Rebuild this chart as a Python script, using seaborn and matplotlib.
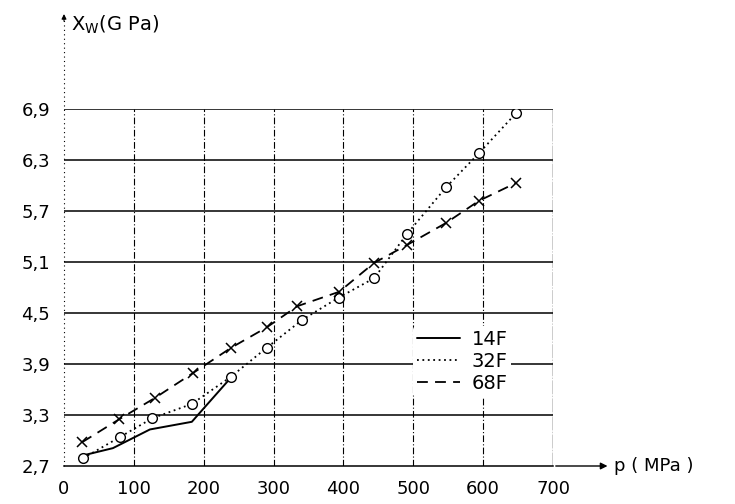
import numpy as np
import pandas as pd
import matplotlib
matplotlib.use("Agg")
import matplotlib.pyplot as plt
import seaborn as sns
from matplotlib.lines import Line2D

sns.set_theme(style="white")
plt.rcParams['font.family'] = ['DejaVu Sans']
plt.rcParams['text.color'] = 'black'
plt.rcParams['xtick.color'] = 'black'
plt.rcParams['ytick.color'] = 'black'

# data
p_14F = [30, 70, 123, 183, 240]
x_14F = [2.83, 2.91, 3.13, 3.22, 3.75]

p_32F = [27, 80, 126, 183, 239, 290, 341, 393, 444, 491, 547, 594, 647]
x_32F = [2.79, 3.04, 3.26, 3.43, 3.75, 4.09, 4.42, 4.68, 4.91, 5.43, 5.98, 6.38, 6.85]

p_68F = [26, 79, 130, 184, 239, 290, 334, 394, 444, 491, 547, 594, 647]
x_68F = [2.98, 3.25, 3.50, 3.79, 4.09, 4.33, 4.58, 4.75, 5.09, 5.30, 5.56, 5.82, 6.03]

series_names = ["14F", "32F", "68F"]
y_ticks = [2.7, 3.3, 3.9, 4.5, 5.1, 5.7, 6.3, 6.9]
y_ticklabels = ["2,7", "3,3", "3,9", "4,5", "5,1", "5,7", "6,3", "6,9"]
x_ticks = [0, 100, 200, 300, 400, 500, 600, 700]
x_ticklabels = ["0", "100", "200", "300", "400", "500", "600", "700"]

df14 = pd.DataFrame({"p": p_14F, "X": x_14F})
df32 = pd.DataFrame({"p": p_32F, "X": x_32F})
df68 = pd.DataFrame({"p": p_68F, "X": x_68F})

fig = plt.figure(figsize=(7.35, 5.04), dpi=100)
ax = fig.add_axes([64/735, 1-466/504, (553-64)/735, (466-109)/504])

ax.set_xlim(0, 700)
ax.set_ylim(2.7, 6.9)

# grid
for yv in y_ticks[1:]:
    ax.axhline(yv, color="black", lw=1.1, zorder=1)
for xv in x_ticks[1:-1]:
    ax.axvline(xv, color="black", lw=0.8, ls=(0, (6, 2, 1, 2)), zorder=1)
ax.axvline(700, color="black", lw=1.0, ls=(0, (10, 1, 1, 1)), zorder=1)

sns.lineplot(data=df14, x="p", y="X", ax=ax, color="black", lw=1.4,
             sort=False, estimator=None, zorder=3)
sns.lineplot(data=df32, x="p", y="X", ax=ax, color="black", lw=1.3,
             linestyle=(0, (1, 2)), marker="o", markersize=7,
             markerfacecolor="white", markeredgecolor="black", markeredgewidth=1.0,
             sort=False, estimator=None, zorder=3)
sns.lineplot(data=df68, x="p", y="X", ax=ax, color="black", lw=1.3,
             linestyle=(0, (6, 4)), marker="x", markersize=7,
             markeredgecolor="black", markeredgewidth=1.1,
             sort=False, estimator=None, zorder=3)

# spines
for s in ["top", "right", "left"]:
    ax.spines[s].set_visible(False)
ax.spines["bottom"].set_color("black")
ax.spines["bottom"].set_linewidth(1.1)

# dotted y axis extending upward
ax.plot([0, 0], [2.7, 8.0], color="black", lw=0.8, ls=(0, (1, 3)),
        clip_on=False, zorder=2)
ax.annotate("", xy=(0, 8.05), xytext=(0, 7.9),
            arrowprops=dict(arrowstyle="-|>", color="black", lw=0.8, mutation_scale=7),
            annotation_clip=False)
ax.text(10, 7.89, r"$\mathregular{X_W}$(G Pa)", fontsize=14, va="center",
        ha="left", clip_on=False)

# x axis arrow
ax.annotate("", xy=(782, 2.7), xytext=(700, 2.7),
            arrowprops=dict(arrowstyle="-|>", color="black", lw=1.0, mutation_scale=10),
            annotation_clip=False)
ax.text(787, 2.7, "p ( MPa )", fontsize=13, va="center", ha="left", clip_on=False)

ax.set_xticks(x_ticks)
ax.set_xticklabels(x_ticklabels, fontsize=13)
ax.set_yticks(y_ticks)
ax.set_yticklabels(y_ticklabels, fontsize=13)
ax.tick_params(axis="both", length=0, pad=10)
ax.set_xlabel("")
ax.set_ylabel("")

handles = [
    Line2D([], [], color="black", lw=1.4),
    Line2D([], [], color="black", lw=1.3, ls=(0, (1, 2))),
    Line2D([], [], color="black", lw=1.3, ls=(0, (6, 4))),
]
leg = ax.legend(handles, series_names, loc="upper left",
                bbox_to_anchor=(0.714, 0.392), frameon=True, fontsize=14,
                handlelength=2.2, handletextpad=0.6, labelspacing=0.15,
                borderpad=0.2, borderaxespad=0)
leg.get_frame().set_facecolor("white")
leg.get_frame().set_edgecolor("none")
leg.get_frame().set_alpha(1)
leg.set_zorder(4)

fig.savefig("out.png", dpi=100)
